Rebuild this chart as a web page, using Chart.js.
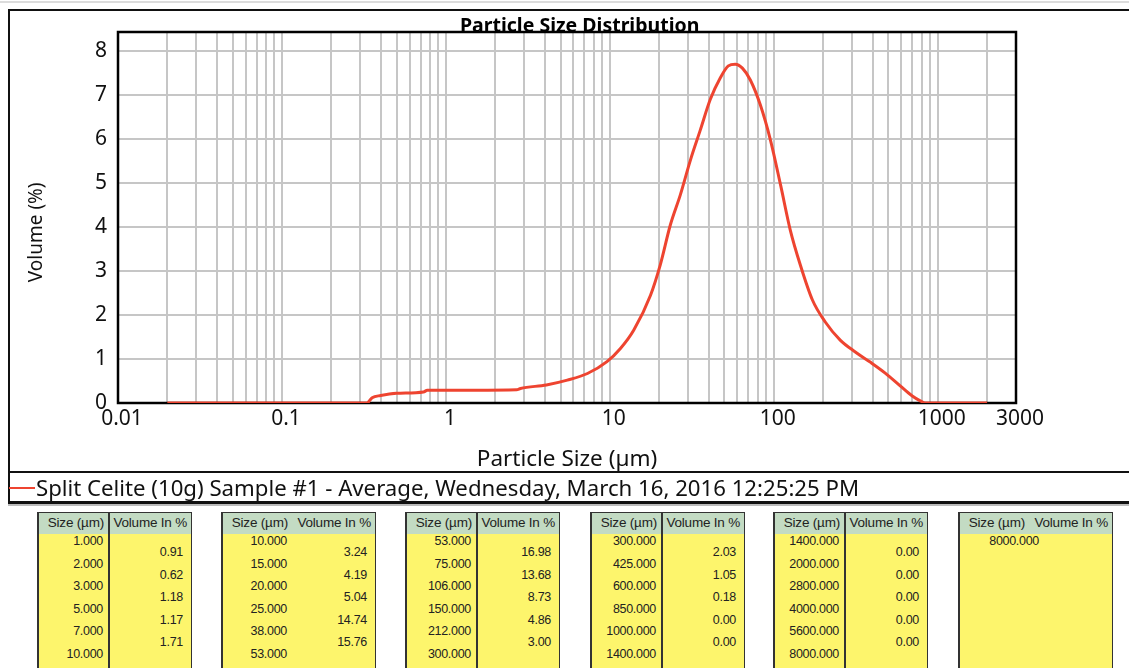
<!DOCTYPE html>
<html>
<head>
<meta charset="utf-8">
<script src="https://cdn.jsdelivr.net/npm/chart.js@4.4.1/dist/chart.umd.min.js"></script>
<style>
  html, body { margin: 0; padding: 0; background: #fff; width: 1129px; height: 668px; overflow: hidden; }
  #wrap { position: relative; width: 1129px; height: 668px; }
  #psd { position: absolute; left: 0; top: 0; }
  #legendLine { position: absolute; left: 9px; top: 487px; width: 26px; height: 2px; background: #ee4430; }
  #legendText { position: absolute; left: 36px; top: 476px; font: 22.2px "Noto Sans", sans-serif; line-height: 24px; color: #111; white-space: nowrap; }
  .tbl { position: absolute; top: 512px; width: 155px; height: 170px; background: #fdf56c; border: 1px solid #333; border-left-width: 2px; box-sizing: border-box; font-family: "Liberation Sans", Arial, sans-serif; color: #222; }
  .tbl .hdr { position: absolute; left: 0; top: 0; right: 0; height: 21px; background: #c3dbc3; }
  .tbl .div { position: absolute; top: 0; bottom: 0; width: 2px; background: #333; }
  .tbl .h { position: absolute; top: 2px; font-size: 13.5px; letter-spacing: -0.2px; white-space: nowrap; }
  .tbl .c { position: absolute; font-size: 12.5px; letter-spacing: -0.3px; white-space: nowrap; text-align: right; }
</style>
</head>
<body>
<div id="wrap">
  <canvas id="psd" width="1129" height="506"></canvas>
  <div id="legendLine"></div>
  <div id="legendText"></div>
</div>
<script>
// Measured distribution: particle size (µm) and volume (%)
const particleSize = [0.02, 0.33, 0.355, 0.40, 0.50, 0.73, 0.77, 1.5, 2.7, 2.85, 4.1, 5.5, 7.3, 9.6, 11.6, 14,
  17.7, 20.3, 23.4, 26.9, 31.0, 35.6, 41.0, 47.2, 52.8, 58.2, 64.3, 71.9, 82.8, 95.3, 110, 126, 145, 172, 206,
  254, 314, 387, 478, 590, 699, 782, 840, 2000];
const volumePct = [0, 0, 0.12, 0.17, 0.22, 0.25, 0.29, 0.29, 0.30, 0.33, 0.41, 0.52, 0.67, 0.94, 1.24, 1.66,
  2.45, 3.14, 4.05, 4.73, 5.52, 6.2, 6.9, 7.39, 7.66, 7.70, 7.61, 7.34, 6.77, 5.98, 4.95, 3.93, 3.14, 2.34, 1.84,
  1.43, 1.16, 0.93, 0.68, 0.39, 0.16, 0.05, 0, 0];

// Axis labels
const xTickLabels = [0.01, 0.1, 1, 10, 100, 1000, 3000];
const yTickLabels = [0, 1, 2, 3, 4, 5, 6, 7, 8];

const seriesName = 'Split Celite (10g) Sample #1 - Average, Wednesday, March 16, 2016 12:25:25 PM';

// Sieve-bin tables: size limits and volume per bin
const binSizes = [
  ['1.000', '2.000', '3.000', '5.000', '7.000', '10.000'],
  ['10.000', '15.000', '20.000', '25.000', '38.000', '53.000'],
  ['53.000', '75.000', '106.000', '150.000', '212.000', '300.000'],
  ['300.000', '425.000', '600.000', '850.000', '1000.000', '1400.000'],
  ['1400.000', '2000.000', '2800.000', '4000.000', '5600.000', '8000.000'],
  ['8000.000']
];
const binVolumes = [
  ['0.91', '0.62', '1.18', '1.17', '1.71'],
  ['3.24', '4.19', '5.04', '14.74', '15.76'],
  ['16.98', '13.68', '8.73', '4.86', '3.00'],
  ['2.03', '1.05', '0.18', '0.00', '0.00'],
  ['0.00', '0.00', '0.00', '0.00', '0.00'],
  []
];

// log grid: 1..9 of every decade, then 2000 and 3000
const xGrid = [];
for (let e = -2; e <= 2; e++) {
  for (let k = 1; k <= 9; k++) xGrid.push(+(k * Math.pow(10, e)).toPrecision(3));
}
xGrid.push(1000, 2000, 3000);

const tickFont = { family: 'Noto Sans', size: 21, lineHeight: 1.2 };
const ink = '#111';

const framePlugin = {
  id: 'frame',
  beforeDraw(chart) {
    const ctx = chart.ctx;
    ctx.save();
    ctx.fillStyle = '#fff';
    ctx.fillRect(0, 0, chart.width, chart.height);
    ctx.fillStyle = '#dcdcdc';
    ctx.fillRect(0, 1, chart.width, 2);
    ctx.fillStyle = '#111';
    ctx.fillRect(8, 9, chart.width - 8, 2);      // top
    ctx.fillRect(8, 9, 2, 495);                  // left
    ctx.fillRect(8, 471, chart.width - 8, 2);    // legend separator
    ctx.fillRect(8, 501, chart.width - 8, 3);    // bottom
    ctx.fillStyle = '#bbb';
    ctx.fillRect(8, 504, chart.width - 8, 2);
    ctx.restore();
  },
  beforeDatasetsDraw(chart) {
    const { ctx, chartArea: a } = chart;
    ctx.save();
    ctx.strokeStyle = '#000';
    ctx.lineWidth = 2.5;
    ctx.strokeRect(a.left, a.top, a.right - a.left, a.bottom - a.top);
    ctx.restore();
  }
};

new Chart(document.getElementById('psd'), {
  type: 'line',
  data: {
    datasets: [{
      label: seriesName,
      data: particleSize.map((s, i) => ({ x: s, y: volumePct[i] })),
      borderColor: '#ee4430',
      borderWidth: 3,
      pointRadius: 0,
      cubicInterpolationMode: 'monotone',
      fill: false
    }]
  },
  options: {
    responsive: false,
    animation: false,
    devicePixelRatio: 1,
    layout: { padding: { left: 0, right: 113, top: 0, bottom: 33 } },
    plugins: {
      legend: { display: false },
      tooltip: { enabled: false },
      title: {
        display: true,
        fullSize: false,
        text: '\u00a0\u00a0\u00a0\u00a0\u00a0Particle Size Distribution',
        color: '#000',
        font: { family: 'Noto Sans', size: 19.5, weight: 'bold', lineHeight: 1.2 },
        padding: { top: 14.8, bottom: -6.2 }
      }
    },
    scales: {
      x: {
        type: 'logarithmic',
        min: 0.01,
        max: 3000,
        afterBuildTicks(scale) { scale.ticks = xGrid.map(v => ({ value: v })); },
        afterFit(scale) { scale.height = 70; },
        grid: { color: '#c6c6c6', lineWidth: 2, drawTicks: false },
        border: { display: false },
        ticks: {
          autoSkip: false, maxRotation: 0, padding: 3, labelOffset: 4, color: ink, font: tickFont,
          callback(v) { return xTickLabels.includes(v) ? String(v) : ''; }
        },
        title: {
          display: true, text: 'Particle Size (µm)', color: ink,
          font: { family: 'Noto Sans', size: 22.5, lineHeight: 1.2 },
          padding: { top: 0, bottom: 0 }
        }
      },
      y: {
        min: 0,
        max: 8.43,
        afterBuildTicks(scale) { scale.ticks = yTickLabels.map(v => ({ value: v })); },
        afterFit(scale) { scale.width = 118; },
        grid: { color: '#c6c6c6', lineWidth: 2, drawTicks: false },
        border: { display: false },
        ticks: { padding: 11, color: ink, font: tickFont },
        title: {
          display: true, text: 'Volume (%)\u00a0\u00a0\u00a0\u00a0\u00a0\u00a0', color: ink,
          font: { family: 'Noto Sans', size: 19, lineHeight: 1.2 },
          padding: { top: 25.6, bottom: 0 }
        }
      }
    }
  },
  plugins: [framePlugin]
});

document.getElementById('legendText').textContent = seriesName;

// Bin tables below the chart
const tblLeft = [37, 221, 405, 590, 773, 958];
const tblDivider = [true, false, true, true, true, false];
const wrap = document.getElementById('wrap');
binSizes.forEach((sizes, t) => {
  const box = document.createElement('div');
  box.className = 'tbl';
  box.style.left = tblLeft[t] + 'px';
  let html = '<div class="hdr"></div>';
  if (tblDivider[t]) html += '<div class="div" style="left:69px"></div>';
  html += '<span class="h" style="right:87px">Size (µm)</span>';
  html += '<span class="h" style="right:4px">Volume In %</span>';
  sizes.forEach((s, r) => {
    html += `<span class="c" style="right:${t === 5 ? 73 : 88}px;top:${21 + r * 22.5}px">${s}</span>`;
  });
  binVolumes[t].forEach((v, r) => {
    html += `<span class="c" style="right:8px;top:${32 + r * 22.6}px">${v}</span>`;
  });
  box.innerHTML = html;
  wrap.appendChild(box);
});
</script>
</body>
</html>
